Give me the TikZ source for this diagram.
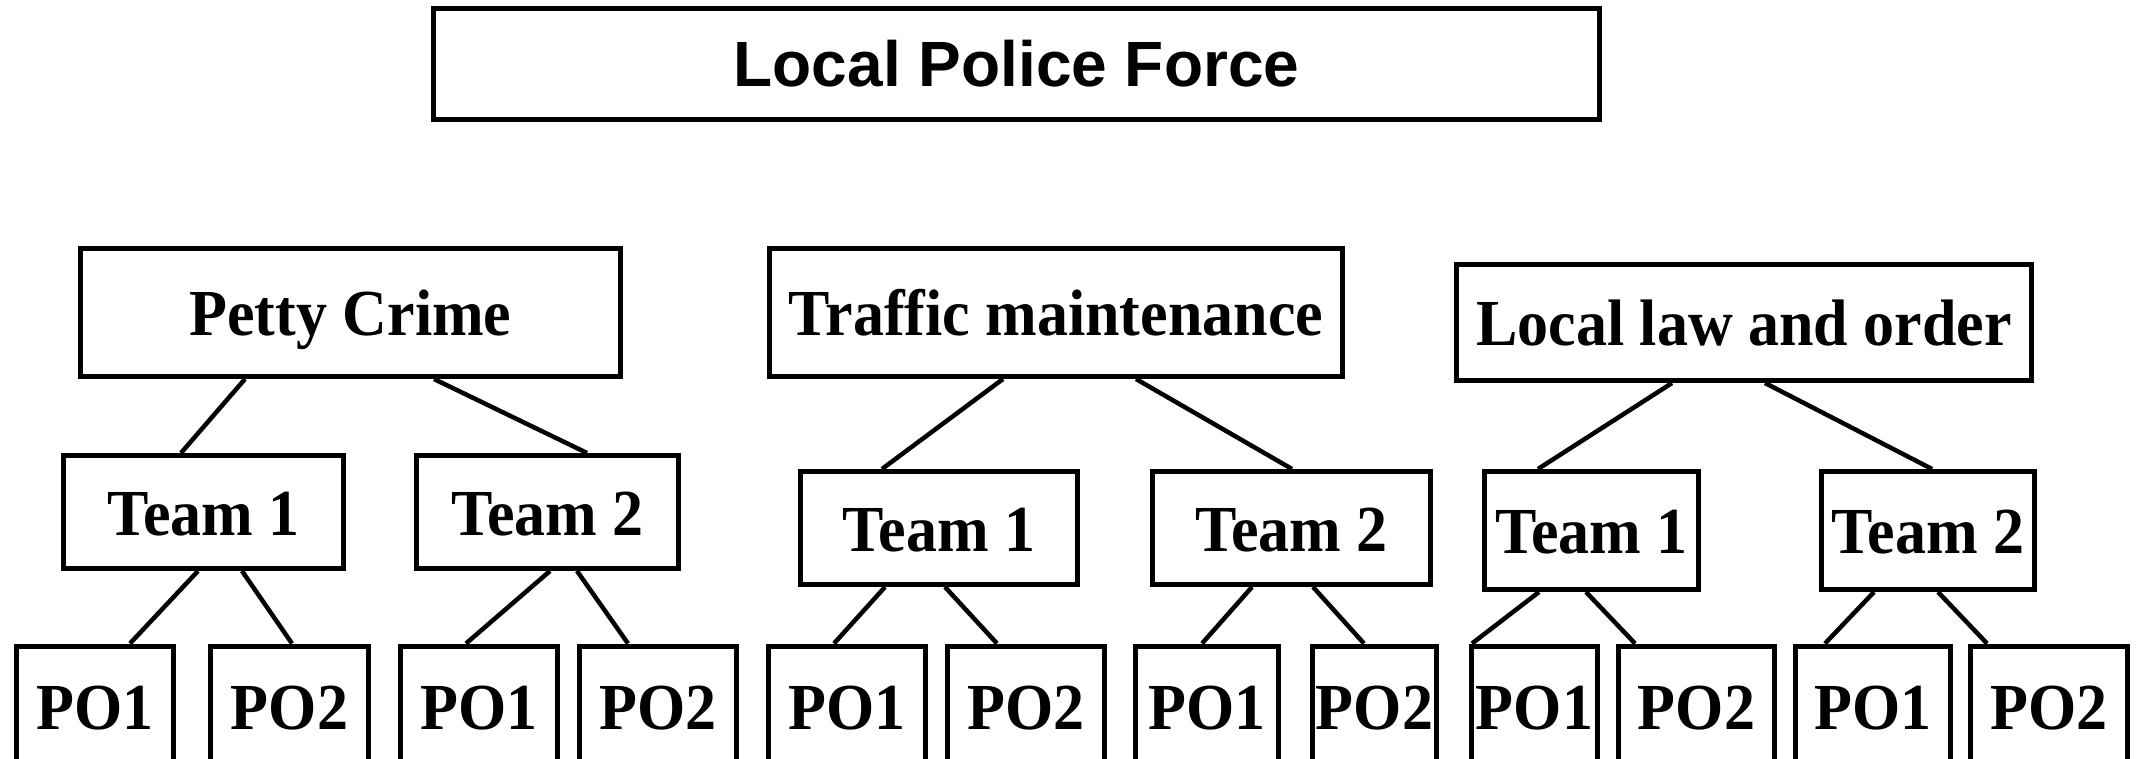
\documentclass[tikz,border=0pt]{standalone}
\usepackage{fontspec}
\usepackage{graphicx}
\setmainfont{Liberation Serif}
\newfontfamily\headsans{Liberation Sans}
\newcommand{\tallt}[1]{\scalebox{1}[1.06]{#1}}
\begin{document}
\begin{tikzpicture}[x=1pt,y=-1pt,
  box/.style={draw,line width=5pt,inner sep=0pt,text height=50pt,text depth=4pt,
    font=\fontsize{62}{70}\selectfont\bfseries},
  conn/.style={line width=4.5pt}]
\useasboundingbox[fill=white] (0,0) rectangle (2139,759);
% top
\node[box,minimum width=1166,minimum height=111,font=\headsans\fontsize{64}{72}\selectfont\bfseries] (top) at (1016.5,64) {Local Police Force};
% level 2
\node[box,minimum width=540,minimum height=128] (pc) at (350.5,312.5) {\tallt{Petty Crime}};
\node[box,minimum width=573,minimum height=128] (tm) at (1056,312.5) {\tallt{Traffic maintenance}};
\node[box,minimum width=575,minimum height=116] (llo) at (1744,322.5) {\tallt{Local law and order}};
% teams
\node[box,minimum width=280,minimum height=113] (pc1) at (203.5,512) {\tallt{Team 1}};
\node[box,minimum width=262,minimum height=113] (pc2) at (547.5,512) {\tallt{Team 2}};
\node[box,minimum width=277,minimum height=113] (tm1) at (939,528) {\tallt{Team 1}};
\node[box,minimum width=278,minimum height=113] (tm2) at (1291.5,528) {\tallt{Team 2}};
\node[box,minimum width=214,minimum height=118] (ll1) at (1591.5,530.5) {\tallt{Team 1}};
\node[box,minimum width=213,minimum height=118] (ll2) at (1928,530.5) {\tallt{Team 2}};
% POs
\node[box,minimum width=157,minimum height=120] (po1) at (95,706) {\tallt{PO1}};
\node[box,minimum width=158,minimum height=120] (po2) at (289.5,706) {\tallt{PO2}};
\node[box,minimum width=157,minimum height=120] (po3) at (479,706) {\tallt{PO1}};
\node[box,minimum width=157,minimum height=120] (po4) at (658,706) {\tallt{PO2}};
\node[box,minimum width=157,minimum height=120] (po5) at (847,706) {\tallt{PO1}};
\node[box,minimum width=157,minimum height=120] (po6) at (1026,706) {\tallt{PO2}};
\node[box,minimum width=143,minimum height=120] (po7) at (1207,706) {\tallt{PO1}};
\node[box,minimum width=124,minimum height=120] (po8) at (1374.5,706) {\tallt{PO2}};
\node[box,minimum width=126,minimum height=120] (po9) at (1534.5,706) {\tallt{PO1}};
\node[box,minimum width=156,minimum height=120] (po10) at (1696.5,706) {\tallt{PO2}};
\node[box,minimum width=155,minimum height=120] (po11) at (1873,706) {\tallt{PO1}};
\node[box,minimum width=157,minimum height=120] (po12) at (2049,706) {\tallt{PO2}};
% connectors level 2 -> teams
\draw[conn] ([xshift=-105.5]pc.south) -- ([xshift=-22.5]pc1.north);
\draw[conn] ([xshift=83.5]pc.south) -- ([xshift=39.5]pc2.north);
\draw[conn] ([xshift=-53]tm.south) -- ([xshift=-57]tm1.north);
\draw[conn] ([xshift=80]tm.south) -- ([xshift=0.5]tm2.north);
\draw[conn] ([xshift=-72]llo.south) -- ([xshift=-53.5]ll1.north);
\draw[conn] ([xshift=21]llo.south) -- ([xshift=4]ll2.north);
% teams -> POs
\draw[conn] ([xshift=-5.5]pc1.south) -- ([xshift=35]po1.north);
\draw[conn] ([xshift=38.5]pc1.south) -- ([xshift=2.5]po2.north);
\draw[conn] ([xshift=2.5]pc2.south) -- ([xshift=-13]po3.north);
\draw[conn] ([xshift=29.5]pc2.south) -- ([xshift=-30]po4.north);
\draw[conn] ([xshift=-54]tm1.south) -- ([xshift=-13]po5.north);
\draw[conn] ([xshift=6]tm1.south) -- ([xshift=-29]po6.north);
\draw[conn] ([xshift=-39.5]tm2.south) -- ([xshift=-5]po7.north);
\draw[conn] ([xshift=21.5]tm2.south) -- ([xshift=-10.5]po8.north);
\draw[conn] ([xshift=-52.5]ll1.south) -- ([xshift=-62.5]po9.north);
\draw[conn] ([xshift=-5.5]ll1.south) -- ([xshift=-61.5]po10.north);
\draw[conn] ([xshift=-54]ll2.south) -- ([xshift=-48]po11.north);
\draw[conn] ([xshift=10]ll2.south) -- ([xshift=-62]po12.north);
\end{tikzpicture}
\end{document}
